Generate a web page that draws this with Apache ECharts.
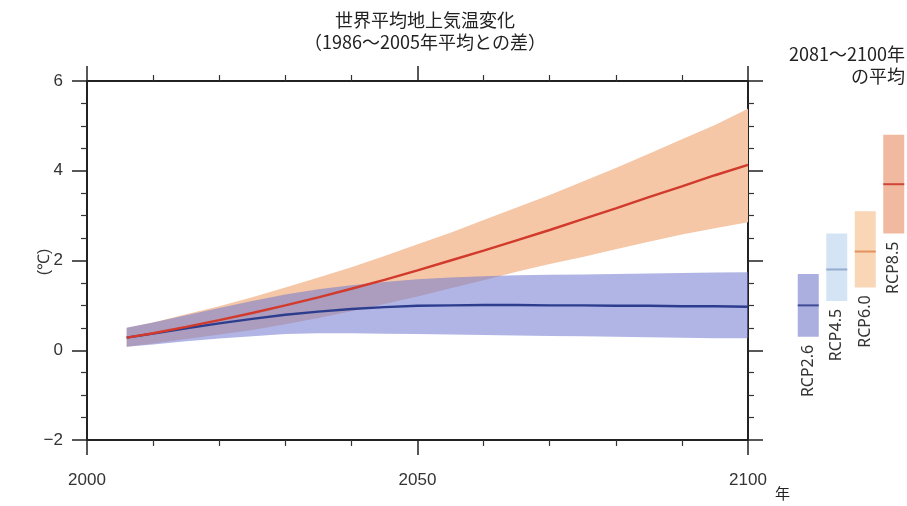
<!DOCTYPE html>
<html>
<head>
<meta charset="utf-8">
<script src="https://cdn.jsdelivr.net/npm/echarts@6/dist/echarts.min.js"></script>
<style>
  html, body { margin: 0; padding: 0; background: #fff; }
  #chart { width: 907px; height: 506px; }
</style>
</head>
<body>
<div id="chart"></div>
<script>
// projection years and multi-model mean / 5-95% range (°C vs 1986-2005)
const years = [2006, 2010, 2015, 2020, 2025, 2030, 2035, 2040, 2045, 2050, 2055, 2060, 2065, 2070, 2075, 2080, 2085, 2090, 2095, 2100];
const rcp85Mean = [0.28, 0.38, 0.52, 0.67, 0.83, 1.00, 1.18, 1.37, 1.57, 1.78, 2.00, 2.22, 2.45, 2.68, 2.92, 3.16, 3.41, 3.65, 3.90, 4.13];
const rcp85Low  = [0.08, 0.15, 0.25, 0.35, 0.45, 0.58, 0.72, 0.87, 1.03, 1.20, 1.38, 1.56, 1.75, 1.92, 2.08, 2.25, 2.42, 2.58, 2.72, 2.85];
const rcp85High = [0.50, 0.62, 0.80, 0.98, 1.18, 1.40, 1.62, 1.85, 2.10, 2.36, 2.62, 2.90, 3.18, 3.46, 3.76, 4.06, 4.38, 4.70, 5.02, 5.38];
const rcp26Mean = [0.28, 0.37, 0.49, 0.60, 0.70, 0.79, 0.86, 0.92, 0.96, 0.99, 1.00, 1.01, 1.01, 1.00, 1.00, 0.99, 0.99, 0.98, 0.98, 0.97];
const rcp26Low  = [0.08, 0.13, 0.20, 0.26, 0.31, 0.36, 0.38, 0.38, 0.37, 0.36, 0.35, 0.34, 0.33, 0.32, 0.31, 0.30, 0.29, 0.28, 0.27, 0.27];
const rcp26High = [0.50, 0.62, 0.78, 0.94, 1.10, 1.24, 1.36, 1.45, 1.52, 1.58, 1.62, 1.65, 1.67, 1.68, 1.69, 1.70, 1.71, 1.72, 1.73, 1.74];

// 2081-2100 averages per scenario
const scenarios = ["RCP2.6", "RCP4.5", "RCP6.0", "RCP8.5"];
const boxLow  = [0.3, 1.1, 1.4, 2.6];
const boxMid  = [1.0, 1.8, 2.2, 3.7];
const boxHigh = [1.7, 2.6, 3.1, 4.8];

const boxFill = ["#abafe0", "#d5e4f4", "#f9d6b6", "#f2b9a1"];
const boxLine = ["#3e4a98", "#95abcf", "#e3915e", "#cf4637"];

const numFont = "'Liberation Sans Narrow', 'Liberation Sans', sans-serif";
const jpFont = "'Noto Sans CJK JP', sans-serif";

const chart = echarts.init(document.getElementById("chart"));

const pairs = (ys) => years.map((y, i) => [y, ys[i]]);

// one polygon per range, built from the axis scales
function bandSeries(low, high, fill) {
  return {
    type: "custom", xAxisIndex: 0, yAxisIndex: 0, silent: true,
    data: years.map((y, i) => [y, low[i], high[i]]),
    renderItem: (params, api) => {
      if (params.dataIndex !== 0) return null;
      const pts = [];
      years.forEach((y, i) => pts.push(api.coord([y, high[i]])));
      for (let i = years.length - 1; i >= 0; i--) pts.push(api.coord([years[i], low[i]]));
      return { type: "polygon", shape: { points: pts }, style: { fill: fill } };
    },
  };
}

const tickStyle = { show: true, length: 15, lineStyle: { color: "#222", width: 1.5 } };
const minorStyle = { show: true, length: 6, lineStyle: { color: "#333", width: 1.2 } };
const lineStyle = { show: true, onZero: false, lineStyle: { color: "#222", width: 2 } };

const option = {
  backgroundColor: "#fff",
  animation: false,
  title: {
    text: "世界平均地上気温変化",
    subtext: "（1986〜2005年平均との差）",
    left: 420,
    top: 6,
    textAlign: "center",
    itemGap: 4,
    textStyle: { fontFamily: jpFont, fontSize: 18, fontWeight: "normal", color: "#222" },
    subtextStyle: { fontFamily: jpFont, fontSize: 18, color: "#222" },
  },
  graphic: [
    { type: "text", right: 2, top: 45, style: { text: "2081〜2100年", font: "18px " + jpFont, fill: "#222" } },
    { type: "text", right: 2, top: 67, style: { text: "の平均", font: "18px " + jpFont, fill: "#222" } },
    { type: "text", left: 775, top: 486, style: { text: "年", font: "15px " + jpFont, fill: "#222" } },
    {
      type: "text", x: 45, y: 262, rotation: Math.PI / 2,
      style: { text: "(℃)", font: "16px " + numFont, fill: "#333", align: "center", verticalAlign: "middle" },
    },
  ],
  grid: [
    { left: 87, top: 81, width: 661, height: 359, outerBoundsMode: "none" },
    { left: 794, top: 81, width: 114, height: 359, outerBoundsMode: "none" },
  ],
  xAxis: [
    {
      type: "value", gridIndex: 0, position: "bottom", min: 2000, max: 2100, interval: 50,
      axisLine: lineStyle, axisTick: tickStyle,
      minorTick: Object.assign({ splitNumber: 5 }, minorStyle),
      splitLine: { show: false },
      axisLabel: { margin: 32, fontFamily: numFont, fontSize: 17, color: "#333", formatter: (v) => String(v) },
    },
    {
      type: "value", gridIndex: 0, position: "top", min: 2000, max: 2100, interval: 50,
      axisLine: lineStyle, axisTick: tickStyle,
      minorTick: Object.assign({ splitNumber: 5 }, minorStyle),
      splitLine: { show: false }, axisLabel: { show: false },
    },
    {
      type: "category", gridIndex: 1, data: scenarios, show: false,
    },
  ],
  yAxis: [
    {
      type: "value", gridIndex: 0, position: "left", min: -2, max: 6, interval: 2,
      axisLine: lineStyle, axisTick: tickStyle,
      minorTick: Object.assign({ splitNumber: 4 }, minorStyle),
      splitLine: { show: false },
      axisLabel: {
        margin: 24, fontFamily: numFont, fontSize: 17, color: "#333",
        formatter: (v) => String(v).replace("-", "−"),
      },
    },
    {
      type: "value", gridIndex: 0, position: "right", min: -2, max: 6, interval: 2,
      axisLine: lineStyle, axisTick: tickStyle,
      minorTick: Object.assign({ splitNumber: 4 }, minorStyle),
      splitLine: { show: false }, axisLabel: { show: false },
    },
    {
      type: "value", gridIndex: 1, min: -2, max: 6, show: false,
    },
  ],
  series: [
    bandSeries(rcp85Low, rcp85High, "#f5c7a7"),
    bandSeries(rcp26Low, rcp26High, "rgba(112,120,208,0.55)"),
    {
      name: "RCP2.6", type: "line", xAxisIndex: 0, yAxisIndex: 0, symbol: "none",
      data: pairs(rcp26Mean), lineStyle: { color: "#2d3d8e", width: 2.4 },
    },
    {
      name: "RCP8.5", type: "line", xAxisIndex: 0, yAxisIndex: 0, symbol: "none",
      data: pairs(rcp85Mean), lineStyle: { color: "#d23a2c", width: 2.4 },
    },
    // 2081-2100 boxes
    {
      type: "custom", xAxisIndex: 2, yAxisIndex: 2,
      data: scenarios.map((s, i) => [i, boxLow[i], boxMid[i], boxHigh[i]]),
      renderItem: (params, api) => {
        const i = api.value(0);
        const pLo = api.coord([i, api.value(1)]);
        const pMid = api.coord([i, api.value(2)]);
        const pHi = api.coord([i, api.value(3)]);
        const w = 21;
        return {
          type: "group",
          children: [
            { type: "rect", shape: { x: pLo[0] - w / 2, y: pHi[1], width: w, height: pLo[1] - pHi[1] }, style: { fill: boxFill[i] } },
            { type: "line", shape: { x1: pMid[0] - w / 2, y1: pMid[1], x2: pMid[0] + w / 2, y2: pMid[1] }, style: { stroke: boxLine[i], lineWidth: 2 } },
            {
              type: "text", x: pLo[0], y: pLo[1] + 8, rotation: Math.PI / 2,
              style: { text: scenarios[i], align: "right", verticalAlign: "middle", font: "16px 'Noto Sans', sans-serif", fill: "#333" },
            },
          ],
        };
      },
    },
  ],
};

chart.setOption(option);
</script>
</body>
</html>
